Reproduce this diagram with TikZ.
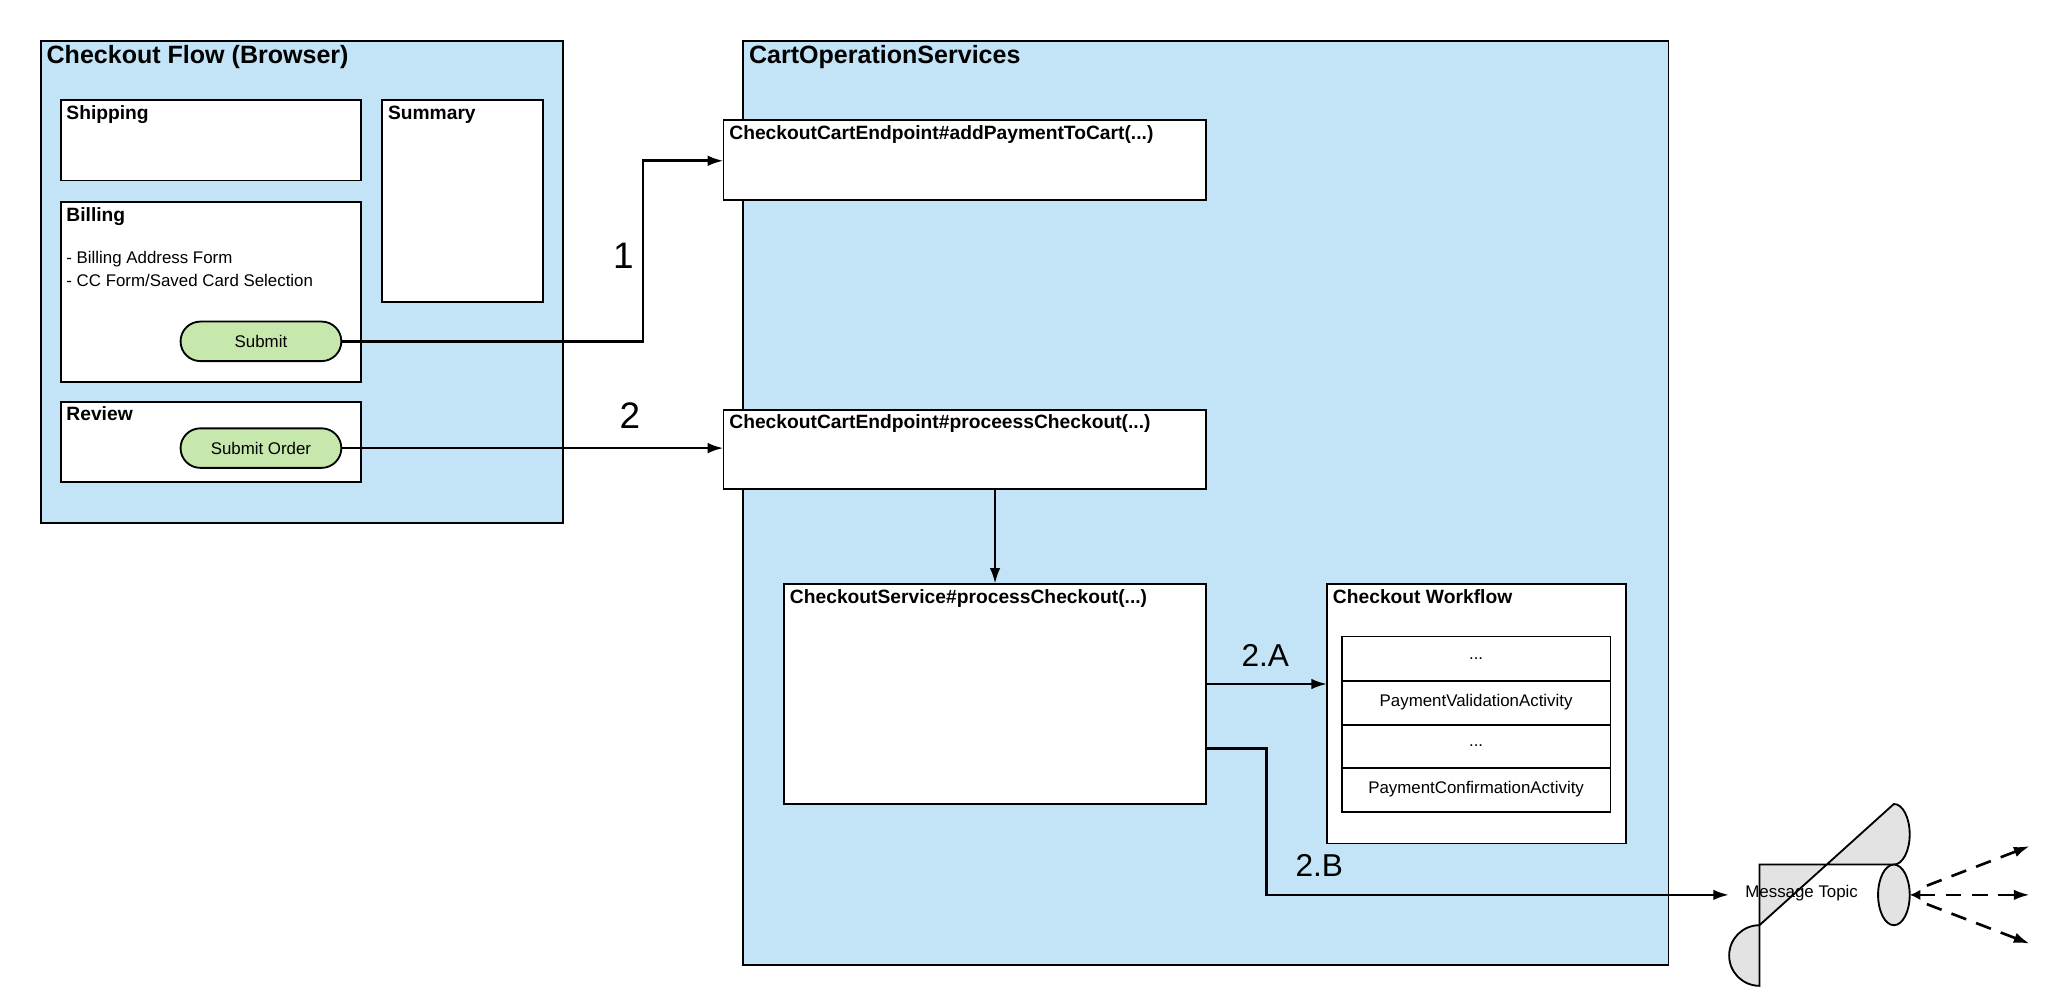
\documentclass[tikz,border=0pt]{standalone}
\usepackage{fontspec}
\setmainfont{Liberation Sans}
\usetikzlibrary{arrows.meta,shapes.geometric}
\definecolor{bluebg}{HTML}{C2E4F6}
\definecolor{btn}{HTML}{C7E8AC}
\definecolor{cyl}{HTML}{E3E3E3}
\begin{document}
\begin{tikzpicture}[x=0.5pt,y=-0.5pt,
  box/.style={draw=black,line width=0.7pt,fill=white},
  group/.style={draw=black,line width=0.7pt,fill=bluebg},
  ttl/.style={anchor=north west,font=\bfseries\fontsize{9.5}{11}\selectfont,inner sep=0pt},
  lbl/.style={anchor=north west,font=\bfseries\fontsize{7.3}{9}\selectfont,inner sep=0pt},
  txt/.style={font=\fontsize{6.4}{8}\selectfont},
  button/.style={draw=black,line width=0.7pt,fill=btn,rounded corners=7.5pt,minimum width=61pt,minimum height=15pt,font=\fontsize{6.4}{8}\selectfont,inner sep=0pt},
  conn/.style={line width=1pt,-{Latex[length=6pt,width=4pt]}},
  num/.style={font=\fontsize{14}{16}\selectfont},
  numb/.style={font=\fontsize{12}{14}\selectfont}]
\useasboundingbox (0,0) rectangle (1560,759);
% Browser group
\draw[group] (31,31) rectangle (427,397);
\node[ttl] (tb) at (35,34) {Checkout Flow (Browser)};
\draw[box] (46,76) rectangle (274,137);
\node[lbl] (ship) at (50,80) {Shipping};
\draw[box] (290,76) rectangle (412,229);
\node[lbl] (summ) at (294,80) {Summary};
\draw[box] (46,153) rectangle (274,290);
\node[lbl] (bill) at (50,157) {Billing};
\node[txt,anchor=west,inner sep=0pt] (bt1) at (50,197) {- Billing Address Form};
\node[txt,anchor=west,inner sep=0pt] (bt2) at (50,213) {- CC Form/Saved Card Selection};
\node[button] (submit) at (198,259) {Submit};
\draw[box] (46,305) rectangle (274,366);
\node[lbl] (rev) at (50,308) {Review};
\node[button] (order) at (198,340) {Submit Order};
% Cart group
\draw[group] (564,31) rectangle (1266,732);
\node[ttl] (tc) at (568,34) {CartOperationServices};
\draw[box] (549,91) rectangle (915,152);
\node[lbl] (e1l) at (553,95) {CheckoutCartEndpoint\#addPaymentToCart(...)};
\coordinate (e1) at (549,122);
\draw[box] (549,311) rectangle (915,371);
\node[lbl] (e2l) at (553,314) {CheckoutCartEndpoint\#proceessCheckout(...)};
\coordinate (e2w) at (549,340);
\coordinate (e2s) at (755,371);
\draw[box] (595,443) rectangle (915,610);
\node[lbl] (sl) at (599,447) {CheckoutService\#processCheckout(...)};
\coordinate (sn) at (755,443);
\coordinate (sa) at (915,519);
\coordinate (sb) at (915,568);
\draw[box] (1007,443) rectangle (1234,640);
\node[lbl] (wl) at (1011,447) {Checkout Workflow};
\coordinate (ww) at (1007,519);
\draw[box] (1018,483) rectangle (1222,616);
\foreach \y in {517,550,583} \draw[line width=0.7pt] (1018,\y) -- (1222,\y);
\node[txt] (r1) at (1120,500) {...};
\node[txt] (r2) at (1120,533) {PaymentValidationActivity};
\node[txt] (r3) at (1120,566) {...};
\node[txt] (r4) at (1120,599) {PaymentConfirmationActivity};
% Cylinder
\draw[line width=0.7pt,fill=cyl] (1335,656) -- (1437,656) arc[start angle=90,end angle=-90,x radius=12,y radius=23] -- (1335,702) arc[start angle=270,end angle=90,x radius=23,y radius=23] -- cycle;
\draw[line width=0.7pt,fill=cyl] (1437,679) ellipse[x radius=12,y radius=23];
\node[txt] (topic) at (1367,678) {Message Topic};
\coordinate (tw) at (1312,679);
\coordinate (te) at (1449,679);
\coordinate (o1) at (1540,642);
\coordinate (o2) at (1540,679);
\coordinate (o3) at (1540,716);
% connectors
\draw[conn] (submit.east) -- (488,259) -- (488,122) -- (e1);
\node[num] (n1) at (473,194) {1};
\draw[conn] (order.east) -- (e2w);
\node[num] (n2) at (478,315) {2};
\draw[conn] (e2s) -- (sn);
\draw[conn] (sa) -- (ww);
\node[numb] (n2a) at (960,497) {2.A};
\draw[conn] (sb) -- (961,568) -- (961,679) -- (tw);
\node[numb] (n2b) at (1001,657) {2.B};
\draw[line width=1pt,dashed,dash pattern=on 6pt off 4pt,{Latex[length=4pt,width=4pt]}-{Latex[length=6pt,width=4pt]}] (te) -- (o2);
\draw[line width=1pt,dash pattern=on 6pt off 4pt,-{Latex[length=6pt,width=4pt]}] (1462,672) -- (o1);
\draw[line width=1pt,dash pattern=on 6pt off 4pt,-{Latex[length=6pt,width=4pt]}] (1462,686) -- (o3);
\end{tikzpicture}
\end{document}
